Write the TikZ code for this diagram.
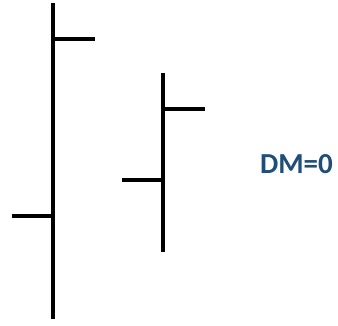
\documentclass[tikz,border=0pt]{standalone}
\usepackage{fontspec}
\newfontfamily\labelfont{Carlito}
\definecolor{dmblue}{HTML}{1F4E79}
\begin{document}
\begin{tikzpicture}[x=1pt,y=-1pt,line width=4pt]
				\useasboundingbox (0,0) rectangle (338,325);
				\draw (53,3) -- (53,319);
				\draw (53,39) -- (95,39);
				\draw (12,216) -- (53,216);
				\draw (163,73) -- (163,252);
				\draw (163,109) -- (205,109);
				\draw (122,180) -- (163,180);
				\node[anchor=base west,inner sep=0pt,text=dmblue,font=\labelfont\bfseries\fontsize{29}{34}\selectfont] (dm) at (258,173) {DM=0};
			\end{tikzpicture}
\end{document}
